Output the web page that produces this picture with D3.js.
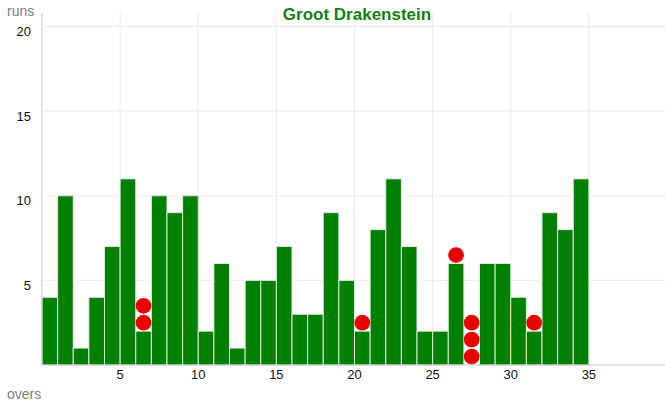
<!DOCTYPE html>
<html>
<head>
<meta charset="utf-8">
<script src="https://cdn.jsdelivr.net/npm/d3@7"></script>
<style>
  body { margin: 0; background: #fff; }
  text { font-family: "Liberation Sans", Arial, sans-serif; }
</style>
</head>
<body>
<div id="chart"></div>
<script>
// runs per over, and wickets that fell in each over
var overs = d3.range(1, 36);
var runs = [4, 10, 1, 4, 7, 11, 2, 10, 9, 10, 2, 6, 1, 5, 5, 7, 3, 3, 9, 5,
            2, 8, 11, 7, 2, 2, 6, 0, 6, 6, 4, 2, 9, 8, 11];
var wickets = [0, 0, 0, 0, 0, 0, 2, 0, 0, 0, 0, 0, 0, 0, 0, 0, 0, 0, 0, 0,
               1, 0, 0, 0, 0, 0, 1, 3, 0, 0, 0, 1, 0, 0, 0];
var xTicks = [5, 10, 15, 20, 25, 30, 35];
var yTicks = [5, 10, 15, 20];
var title = "Groot Drakenstein";

var width = 665, height = 408;

var x = d3.scaleLinear().domain([0, 40]).range([42, 667]);
var y = d3.scaleLinear().domain([0, 20.8]).range([365, 13]);

var svg = d3.select("#chart").append("svg")
    .attr("width", width)
    .attr("height", height);

// grid
svg.append("g").selectAll("line")
    .data(xTicks)
    .enter().append("line")
    .attr("x1", function(d) { return x(d); })
    .attr("x2", function(d) { return x(d); })
    .attr("y1", y.range()[1])
    .attr("y2", y(0))
    .style("stroke", "#ebebeb");

svg.append("g").selectAll("line")
    .data(yTicks)
    .enter().append("line")
    .attr("x1", x(0))
    .attr("x2", width)
    .attr("y1", function(d) { return y(d); })
    .attr("y2", function(d) { return y(d); })
    .style("stroke", "#ebebeb");

// bars
svg.append("g").selectAll("rect")
    .data(overs)
    .enter().append("rect")
    .attr("x", function(d) { return x(d - 1); })
    .attr("width", function(d) { return x(d) - x(d - 1); })
    .attr("y", function(d, i) { return y(runs[i]); })
    .attr("height", function(d, i) { return y(0) - y(runs[i]); })
    .style("fill", "#008000")
    .style("stroke", "#e6e6e6")
    .style("stroke-width", 1);

// wickets, stacked above the bar
var pts = [];
overs.forEach(function(o, i) {
    for (var k = 0; k < wickets[i]; k++) pts.push({over: o, v: runs[i] + 0.5 + k});
});
var r = (y(0) - y(1)) / 2 - 0.6;
svg.append("g").selectAll("circle")
    .data(pts)
    .enter().append("circle")
    .attr("cx", function(d) { return x(d.over - 0.5); })
    .attr("cy", function(d) { return y(d.v); })
    .attr("r", r)
    .style("fill", "#e60000");

// axes
svg.append("line")
    .attr("x1", x(0)).attr("x2", width)
    .attr("y1", y(0)).attr("y2", y(0))
    .style("stroke", "#c8c8c8");
svg.append("line")
    .attr("x1", x(0)).attr("x2", x(0))
    .attr("y1", y.range()[1]).attr("y2", y(0))
    .style("stroke", "#c8c8c8");

svg.append("g").selectAll("text")
    .data(xTicks)
    .enter().append("text")
    .attr("x", function(d) { return x(d); })
    .attr("y", y(0) + 14)
    .attr("text-anchor", "middle")
    .style("font-size", "13px")
    .style("fill", "#111")
    .text(function(d) { return d; });

// y labels hang just below their grid line
svg.append("g").selectAll("text")
    .data(yTicks)
    .enter().append("text")
    .attr("x", 31)
    .attr("y", function(d) { return y(d) + 9.5; })
    .attr("text-anchor", "end")
    .style("font-size", "13px")
    .style("fill", "#111")
    .text(function(d) { return d; });

svg.append("text")
    .attr("x", 7).attr("y", 16)
    .style("font-size", "14px")
    .style("fill", "#808080")
    .text("runs");

svg.append("text")
    .attr("x", 7).attr("y", 399)
    .style("font-size", "14px")
    .style("fill", "#808080")
    .text("overs");

svg.append("text")
    .attr("x", 357)
    .attr("y", 20)
    .attr("text-anchor", "middle")
    .style("font-size", "17px")
    .style("font-weight", "bold")
    .style("fill", "#118011")
    .text(title);
</script>
</body>
</html>
